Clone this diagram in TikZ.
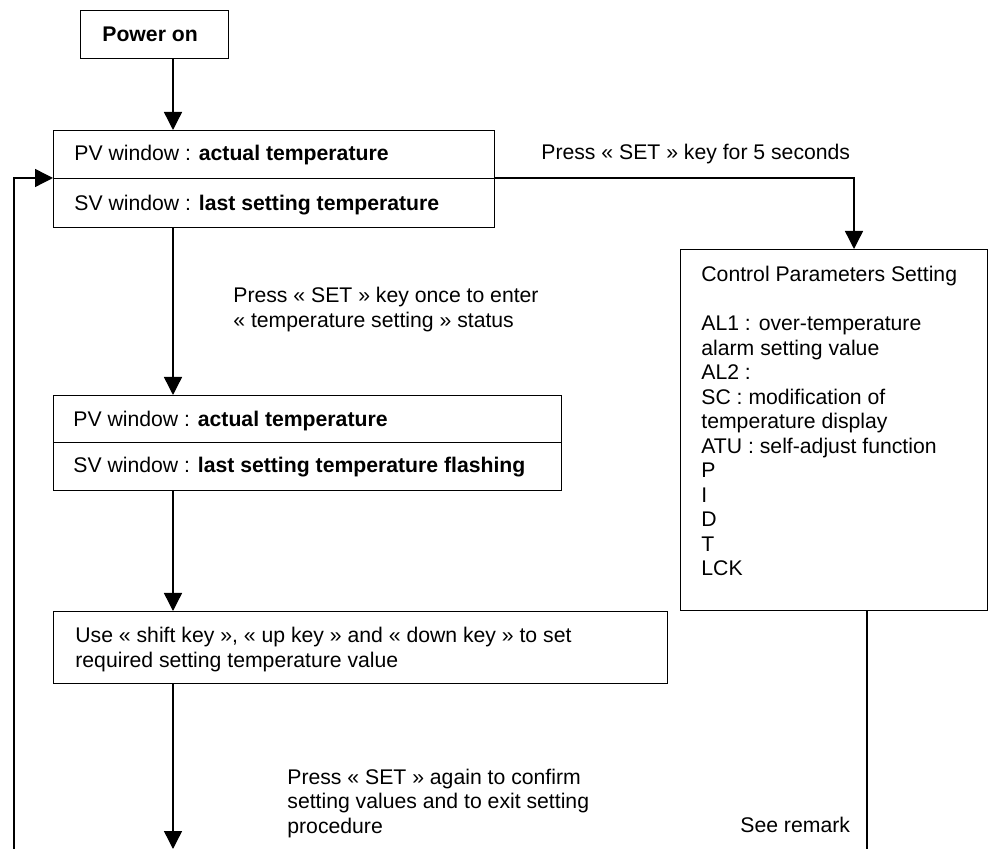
\documentclass[tikz,border=0pt]{standalone}
\usepackage{fontspec}
\setmainfont{Liberation Sans}
\usetikzlibrary{arrows.meta}
\begin{document}
\begin{tikzpicture}[x=0.5pt,y=-0.5pt,
  box/.style={draw, line width=0.7pt, inner sep=0pt, anchor=north west},
  lbl/.style={anchor=base west, inner sep=0pt, align=left, font=\fontsize{10.6pt}{12.25pt}\selectfont},
  conn/.style={line width=0.7pt, -{Triangle[length=9pt,width=9pt]}},
  plain/.style={line width=0.7pt}]
\useasboundingbox[fill=white] (0,0) rectangle (991,849);
% boxes
\node[box, minimum width=74pt, minimum height=24pt] (pow) at (80,10) {};
\node[box, minimum width=220.5pt, minimum height=24pt] (pv1) at (53,130) {};
\node[box, minimum width=220.5pt, minimum height=24.5pt] (sv1) at (53,178) {};
\node[box, minimum width=254pt, minimum height=23.5pt] (pv2) at (53,395) {};
\node[box, minimum width=254pt, minimum height=24pt] (sv2) at (53,442) {};
\node[box, minimum width=307pt, minimum height=36pt] (use) at (53,611) {};
\node[box, minimum width=153.5pt, minimum height=180.5pt] (ctl) at (680,249) {};
% texts (base anchor = baseline of the last line)
\node[lbl] (tpow) at (102,42) {\bfseries Power on};
\node[lbl] (tpv1) at (74,161) {PV window : \textbf{actual temperature}};
\node[lbl] (tsv1) at (74,211) {SV window : \textbf{last setting temperature}};
\node[lbl] (t5s) at (541,160) {Press « SET » key for 5 seconds};
\node[lbl] (tonce) at (233,327.5) {Press « SET » key once to enter\\« temperature setting » status};
\node[lbl] (tpv2) at (73,427) {PV window : \textbf{actual temperature}};
\node[lbl] (tsv2) at (73,473) {SV window : \textbf{last setting temperature flashing}};
\node[lbl] (tuse) at (75,667.5) {Use « shift key », « up key » and « down key » to set\\required setting temperature value};
\node[lbl] (tagain) at (287,833) {Press « SET » again to confirm\\setting values and to exit setting\\procedure};
\node[lbl] (trem) at (740,832) {See remark};
\node[lbl] (tctl) at (701,576) {Control Parameters Setting\\[12.25pt]AL1 : over-temperature\\alarm setting value\\AL2 :\\SC : modification of\\temperature display\\ATU : self-adjust function\\P\\I\\D\\T\\LCK};
% helper coordinates
\coordinate (ax) at (173,0);
\coordinate (cx) at (854,0);
\coordinate (lb) at (14,849);
\coordinate (mb) at (173,849);
\coordinate (rb) at (867,849);
% connectors
\draw[conn] (pow.south -| ax) -- (pv1.north -| ax);
\draw[conn] (sv1.south -| ax) -- (pv2.north -| ax);
\draw[conn] (sv2.south -| ax) -- (use.north -| ax);
\draw[conn] (use.south -| ax) -- (mb);
\draw[conn] (lb) |- (sv1.north west);
\draw[conn] (sv1.north east) -| (ctl.north -| cx);
\draw[plain] (ctl.south -| rb) -- (rb);
\end{tikzpicture}
\end{document}
